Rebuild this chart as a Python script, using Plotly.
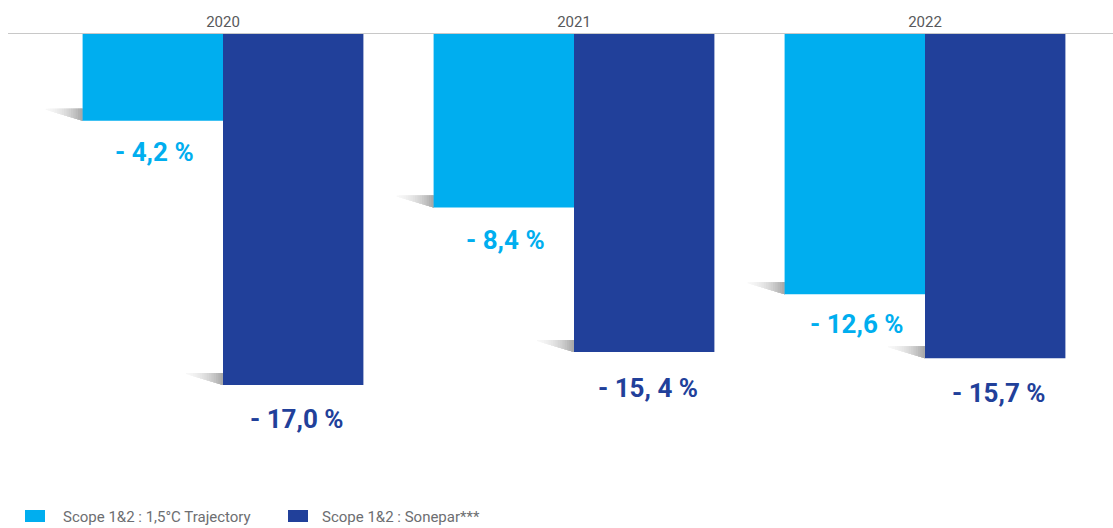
import plotly.graph_objects as go

# Data
years = ["2020", "2021", "2022"]
trajectory = [-4.2, -8.4, -12.6]        # Scope 1&2 : 1,5°C Trajectory
sonepar = [-17.0, -15.4, -15.7]         # Scope 1&2 : Sonepar***
trajectory_labels = ["- 4,2 %", "- 8,4 %", "- 12,6 %"]
sonepar_labels = ["- 17,0 %", "- 15, 4 %", "- 15,7 %"]
series_names = ["Scope 1&2 : 1,5°C Trajectory", "Scope 1&2 : Sonepar***"]

LIGHT = "#00AEEF"
DARK = "#21409A"

W, H = 1113, 528
M_L, M_R, M_T, M_B = 8, 0, 34, 68
PX_PER_CAT = 351.0
PX_PER_UNIT = 20.65
FIRST_CAT_PX = 223

plot_w = W - M_L - M_R
plot_h = H - M_T - M_B
x_lo = (M_L - FIRST_CAT_PX) / PX_PER_CAT
x_hi = (W - M_R - FIRST_CAT_PX) / PX_PER_CAT
y_lo = -plot_h / PX_PER_UNIT

BAR_W = 0.4  # bargap 0.2 -> two bars of 0.4 per category

fig = go.Figure()
fig.add_trace(go.Bar(x=list(range(len(years))), y=trajectory, name=series_names[0],
                     marker=dict(color=LIGHT, line=dict(width=0)), showlegend=False))
fig.add_trace(go.Bar(x=list(range(len(years))), y=sonepar, name=series_names[1],
                     marker=dict(color=DARK, line=dict(width=0)), showlegend=False))

shapes = []
annotations = []


def add_shadow(x_right, y_val):
    """Soft wedge shadow at the lower-left corner of a bar (stacked, darkening to the right)."""
    length = 37 / PX_PER_CAT
    top = y_val + 12 / PX_PER_UNIT
    tip = y_val + 11 / PX_PER_UNIT
    n = 16
    for i in range(n):
        f0 = i / n
        xa = x_right - length + f0 * length
        ya = tip + (y_val - tip) * f0
        g = int(248 - 78 * ((i + 1) / n) ** 1.8)
        col = f"rgb({g},{g},{g})"
        shapes.append(dict(type="path", xref="x", yref="y", layer="below",
                           path=f"M{xa},{top} L{x_right},{top} L{x_right},{y_val} L{xa},{ya} Z",
                           fillcolor=col, line=dict(width=0)))


light_offsets = [31, 33, 30]
dark_offsets = [34, 36, 35]

for i in range(len(years)):
    light_left = i - BAR_W
    dark_left = i
    add_shadow(light_left, trajectory[i])
    add_shadow(dark_left, sonepar[i])
    annotations.append(dict(x=i - BAR_W / 2 + 2 / PX_PER_CAT,
                            y=trajectory[i] - light_offsets[i] / PX_PER_UNIT,
                            xref="x", yref="y", text=trajectory_labels[i], showarrow=False,
                            font=dict(family="Roboto", size=26, color=LIGHT, weight="bold"),
                            xanchor="center", yanchor="middle"))
    annotations.append(dict(x=i + BAR_W / 2 + 4 / PX_PER_CAT,
                            y=sonepar[i] - dark_offsets[i] / PX_PER_UNIT,
                            xref="x", yref="y", text=sonepar_labels[i], showarrow=False,
                            font=dict(family="Roboto", size=26, color=DARK, weight="bold"),
                            xanchor="center", yanchor="middle"))


def px_x(p):
    return (p - M_L) / plot_w


def px_y(p):
    return (H - M_B - p) / plot_h


# Legend drawn as swatches and captions below the plot
legend_items = [(25, 61, LIGHT, series_names[0]), (288, 320, DARK, series_names[1])]
for x0, tx, col, name in legend_items:
    shapes.append(dict(type="rect", xref="paper", yref="paper",
                       x0=px_x(x0), x1=px_x(x0 + 20), y0=px_y(522), y1=px_y(510),
                       fillcolor=col, line=dict(width=0)))
    annotations.append(dict(x=px_x(tx), y=px_y(517), xref="paper", yref="paper",
                            text=name, showarrow=False, xanchor="left", yanchor="middle",
                            font=dict(family="Roboto", size=15, color="#6d6e71")))

fig.update_layout(
    width=W, height=H,
    margin=dict(l=M_L, r=M_R, t=M_T, b=M_B),
    paper_bgcolor="white", plot_bgcolor="white",
    barmode="group", bargap=0.2, bargroupgap=0,
    showlegend=False,
    shapes=shapes, annotations=annotations,
    xaxis=dict(side="top", range=[x_lo, x_hi], tickmode="array",
               tickvals=list(range(len(years))), ticktext=years,
               showline=True, linecolor="#c8c8c8", linewidth=1, ticks="",
               showgrid=False, zeroline=False,
               tickfont=dict(family="Roboto", size=15, color="#58595b")),
    yaxis=dict(range=[y_lo, 0], visible=False, showgrid=False, zeroline=False),
)

fig.write_html("out.html")
